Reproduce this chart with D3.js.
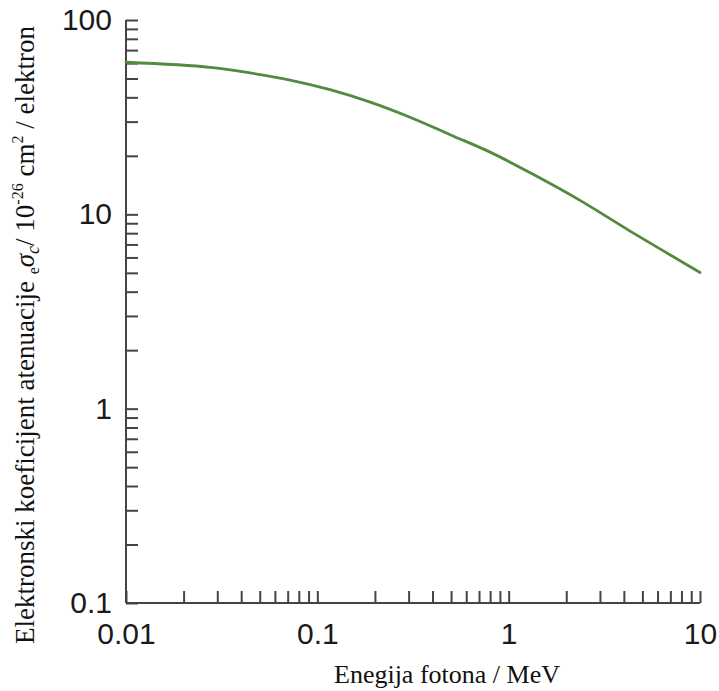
<!DOCTYPE html>
<html>
<head>
<meta charset="utf-8">
<script src="https://cdn.jsdelivr.net/npm/d3@7"></script>
<style>
  html, body { margin: 0; padding: 0; background: #fff; }
  svg { display: block; }
</style>
</head>
<body>
<svg id="chart" width="719" height="691"></svg>
<script>
// ---- data ----
const energyMeV = [0.01, 0.0275, 0.0445, 0.072, 0.1165, 0.189, 0.305, 0.494, 0.80, 1.29, 2.36, 4.31, 10];
const sigmaE = [60.6, 57.1, 53.4, 49.1, 43.8, 37.8, 31.6, 25.7, 20.9, 16.4, 11.8, 8.2, 5.02];
const xTickLabels = ["0.01", "0.1", "1", "10"];
const yTickLabels = ["0.1", "1", "10", "100"];
const xTitle = "Enegija fotona / MeV";

// ---- layout ----
const svg = d3.select("#chart");
const x = d3.scaleLog().domain([0.01, 10]).range([126, 700]);
const y = d3.scaleLog().domain([0.1, 100]).range([603, 20]);

const axisColor = "#444";
const labelFont = "Liberation Sans, Arial, sans-serif";
const serif = "Liberation Serif, Times New Roman, serif";

function minorTicks(lo, hi) {
  const t = [];
  for (let d = lo; d < hi; d *= 10) for (let k = 1; k <= 9; k++) t.push(d * k);
  t.push(hi);
  return t;
}
const fmt = labels => d => {
  const s = String(+d.toPrecision(3));
  return labels.includes(s) ? s : "";
};

// Y axis
const yAxis = d3.axisLeft(y)
  .tickValues(minorTicks(0.1, 100))
  .tickSize(-12)
  .tickPadding(14)
  .tickFormat(fmt(yTickLabels));
const gy = svg.append("g").attr("transform", `translate(${x(0.01)},0)`).call(yAxis);

// X axis
const xAxis = d3.axisBottom(x)
  .tickValues(minorTicks(0.01, 10))
  .tickSize(-12)
  .tickPadding(20)
  .tickFormat(fmt(xTickLabels));
const gx = svg.append("g").attr("transform", `translate(0,${y(0.1)})`).call(xAxis);

[gx, gy].forEach(g => {
  g.attr("font-family", null).attr("font-size", null);
  g.select(".domain").attr("stroke", axisColor).attr("stroke-width", 2);
  g.selectAll(".tick line").attr("stroke", axisColor).attr("stroke-width", 2);
  g.selectAll(".tick text").attr("fill", "#1a1a1a")
    .attr("font-family", labelFont).attr("font-size", 30);
});
gx.selectAll(".tick text").attr("dy", "0.71em");
gy.select(".domain").attr("d", `M0,${y(100)}V${y(0.1)}`);
gx.select(".domain").attr("d", `M${x(0.01)},0H${x(10)}`);

// curve
const line = d3.line()
  .x((d, i) => x(energyMeV[i]))
  .y(d => y(d))
  .curve(d3.curveCatmullRom.alpha(0.5));
svg.append("path")
  .datum(sigmaE)
  .attr("d", line)
  .attr("fill", "none")
  .attr("stroke", "#528b3f")
  .attr("stroke-width", 2.8)
  .attr("stroke-linecap", "round");

// x title
svg.append("text")
  .attr("x", 447).attr("y", 683)
  .attr("text-anchor", "middle")
  .attr("font-family", serif).attr("font-size", 26).attr("fill", "#111")
  .text(xTitle);

// y title (rotated, rich text)
const yt = svg.append("text")
  .attr("transform", "translate(34,335) rotate(-90)")
  .attr("text-anchor", "middle")
  .attr("font-family", serif).attr("font-size", 27).attr("fill", "#111");
yt.append("tspan").text("Elektronski koeficijent atenuacije ");
yt.append("tspan").text("e").attr("font-size", 16).attr("dy", 5);
yt.append("tspan").text("σ").attr("font-style", "italic").attr("dy", -5);
yt.append("tspan").text("c").attr("font-style", "italic").attr("font-size", 18).attr("dy", 5);
yt.append("tspan").text("/ 10").attr("dy", -5);
yt.append("tspan").text("-26").attr("font-size", 16).attr("dy", -11);
yt.append("tspan").text(" cm").attr("dy", 11);
yt.append("tspan").text("2").attr("font-size", 16).attr("dy", -11);
yt.append("tspan").text(" / elektron").attr("dy", 11);
</script>
</body>
</html>
